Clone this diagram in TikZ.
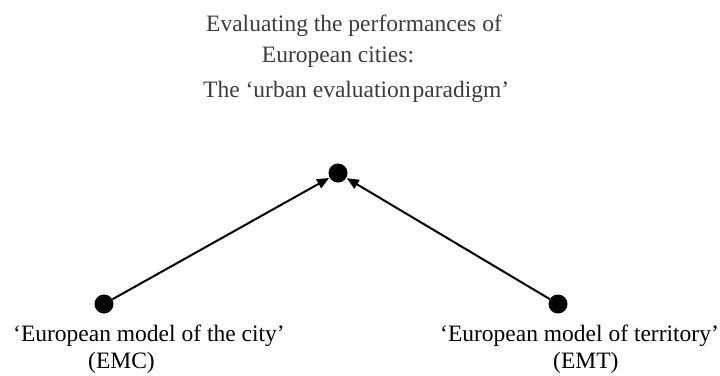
\documentclass[tikz,border=0pt]{standalone}
\usepackage{fontspec}
\setmainfont{Liberation Serif}
\usetikzlibrary{arrows.meta}
\definecolor{titlegray}{HTML}{3C3C3C}
\tikzset{
  dot/.style={circle, fill=black, inner sep=0pt, minimum size=19pt},
  link/.style={line width=2pt, -{Triangle[length=12pt,width=10pt]}, shorten >=0.5pt},
  title/.style={font=\fontsize{23.5}{28}\selectfont, text=titlegray, inner sep=0pt},
  label/.style={font=\fontsize{23.5}{28}\selectfont, text=black, inner sep=0pt}
}
\begin{document}
\begin{tikzpicture}[x=1pt, y=-1pt]
  \useasboundingbox (0,0) rectangle (720,375);
  % heading
  \node[title, anchor=base west] (t1) at (206,31) {Evaluating the performances of};
  \node[title, anchor=base] (t2) at (338,62) {European cities:};
  \node[title, anchor=base west] (t3) at (203,97) {The ‘urban evaluation\hspace{0.08em}paradigm’};
  % the three points
  \node[dot] (top) at (338,173) {};
  \node[dot] (emc) at (104,304) {};
  \node[dot] (emt) at (558,304) {};
  \draw[link] (emc) -- (top);
  \draw[link] (emt) -- (top);
  % labels under the two lower points
  \node[label, anchor=base west] (l1) at (13,341) {‘European model of the city’};
  \node[label, anchor=base west] (l1b) at (88,368) {(EMC)};
  \node[label, anchor=base east] (l2) at (719,341) {‘European model of territory’};
  \node[label, anchor=base west] (l2b) at (553,368) {(EMT)};
\end{tikzpicture}
\end{document}
